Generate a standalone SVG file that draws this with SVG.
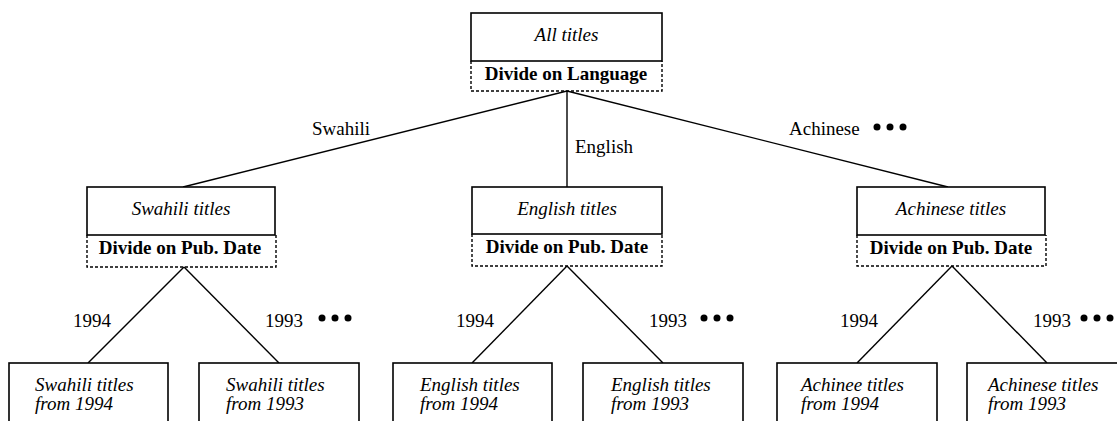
<svg xmlns="http://www.w3.org/2000/svg" width="1117" height="421" viewBox="0 0 1117 421" font-family="Liberation Serif, Times New Roman, serif" font-size="19">
<style>
.box{fill:#fff;stroke:#000;stroke-width:1.6}
.dash{fill:none;stroke:#000;stroke-width:1.4;stroke-dasharray:3 2}
.ln{stroke:#000;stroke-width:1.4;fill:none}
.it{font-style:italic}
.bd{font-weight:bold;text-anchor:middle}
.dot{fill:#000}
</style>
<rect width="1117" height="421" fill="#fff"/>
<g id="connectors">
<line class="ln" x1="567" y1="91" x2="183" y2="187"/>
<line class="ln" x1="567" y1="91" x2="567" y2="187"/>
<line class="ln" x1="567" y1="91" x2="948" y2="187"/>
<line class="ln" x1="184" y1="267" x2="88" y2="363"/>
<line class="ln" x1="184" y1="267" x2="279" y2="363"/>
<line class="ln" x1="567" y1="266" x2="472" y2="363"/>
<line class="ln" x1="567" y1="266" x2="663" y2="363"/>
<line class="ln" x1="952" y1="266" x2="857" y2="363"/>
<line class="ln" x1="952" y1="266" x2="1047" y2="363"/>
<text x="312" y="135">Swahili</text>
<text x="575" y="153">English</text>
<text x="789" y="135">Achinese</text>
<circle class="dot" cx="877" cy="127" r="3.5"/><circle class="dot" cx="890" cy="127" r="3.5"/><circle class="dot" cx="903" cy="127" r="3.5"/>
<text x="73" y="327">1994</text>
<text x="265" y="327">1993</text>
<circle class="dot" cx="322" cy="318" r="3.5"/><circle class="dot" cx="335" cy="318" r="3.5"/><circle class="dot" cx="348" cy="318" r="3.5"/>
<text x="456" y="327">1994</text>
<text x="649" y="327">1993</text>
<circle class="dot" cx="704" cy="318" r="3.5"/><circle class="dot" cx="717" cy="318" r="3.5"/><circle class="dot" cx="730" cy="318" r="3.5"/>
<text x="840" y="327">1994</text>
<text x="1033" y="327">1993</text>
<circle class="dot" cx="1084" cy="318" r="3.5"/><circle class="dot" cx="1097" cy="318" r="3.5"/><circle class="dot" cx="1110" cy="318" r="3.5"/>
</g>
<g id="root">
<rect class="box" x="471" y="13" width="191" height="48"/>
<path class="dash" d="M471,61 V91 H662 V61"/>
<text class="it" x="566.5" y="41" text-anchor="middle">All titles</text>
<text class="bd" x="566" y="80">Divide on Language</text>
</g>
<g id="swahili">
<rect class="box" x="87" y="187" width="188" height="48"/>
<path class="dash" d="M87,235 V267 H276 V235"/>
<text class="it" x="181" y="215" text-anchor="middle">Swahili titles</text>
<text class="bd" x="180" y="254">Divide on Pub. Date</text>
</g>
<g id="english">
<rect class="box" x="472" y="187" width="190" height="47"/>
<path class="dash" d="M472,234 V266 H662 V234"/>
<text class="it" x="567" y="215" text-anchor="middle">English titles</text>
<text class="bd" x="567" y="253">Divide on Pub. Date</text>
</g>
<g id="achinese">
<rect class="box" x="857" y="187" width="188" height="48"/>
<path class="dash" d="M857,235 V266 H1046 V235"/>
<text class="it" x="951" y="215" text-anchor="middle">Achinese titles</text>
<text class="bd" x="951" y="254">Divide on Pub. Date</text>
</g>
<g id="sw1994">
<rect class="box" x="9" y="363" width="159" height="70"/>
<text class="it" x="35" y="391">Swahili titles</text>
<text class="it" x="35" y="410">from 1994</text>
</g>
<g id="sw1993">
<rect class="box" x="199" y="363" width="160" height="70"/>
<text class="it" x="226" y="391">Swahili titles</text>
<text class="it" x="226" y="410">from 1993</text>
</g>
<g id="en1994">
<rect class="box" x="393" y="363" width="159" height="70"/>
<text class="it" x="420" y="391">English titles</text>
<text class="it" x="420" y="410">from 1994</text>
</g>
<g id="en1993">
<rect class="box" x="583" y="363" width="160" height="70"/>
<text class="it" x="611" y="391">English titles</text>
<text class="it" x="611" y="410">from 1993</text>
</g>
<g id="ac1994">
<rect class="box" x="777" y="363" width="160" height="70"/>
<text class="it" x="801" y="391">Achinee titles</text>
<text class="it" x="801" y="410">from 1994</text>
</g>
<g id="ac1993">
<rect class="box" x="967" y="363" width="160" height="70"/>
<text class="it" x="988" y="391">Achinese titles</text>
<text class="it" x="988" y="410">from 1993</text>
</g>
</svg>
